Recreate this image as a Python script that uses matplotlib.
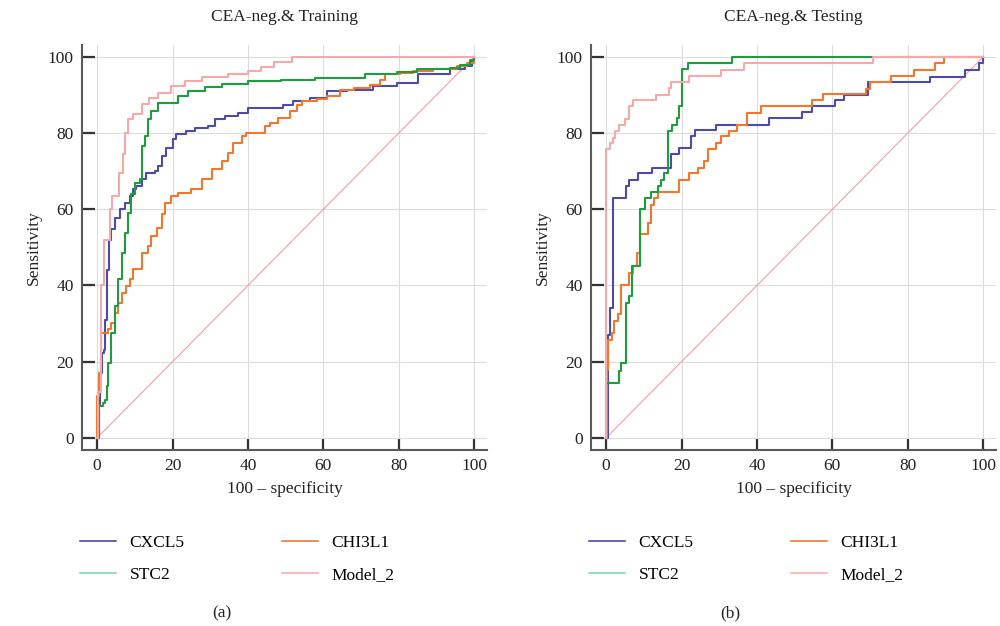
import matplotlib
matplotlib.use("Agg")
import matplotlib.pyplot as plt
from matplotlib.lines import Line2D
from matplotlib.ticker import MultipleLocator

plt.rcParams['font.family'] = ['Liberation Serif', 'DejaVu Serif']

names = ['CXCL5', 'CHI3L1', 'STC2', 'Model_2']
colors = ['#4b4ba8', '#f2772e', '#1d9e3e', '#f6a9a9']
legend_colors = ['#3a3a92', '#ee6a2a', '#7fd3a2', '#f7a8a8']
panel_titles = ['CEA-neg.& Training', 'CEA-neg.& Testing']
panel_tags = ['(a)', '(b)']
ticks = [0, 20, 40, 60, 80, 100]

# training set ROC (100 - specificity, sensitivity), steps
train_cxcl5_x = [0, 0.4, 0.7, 1.2, 1.9, 2.2, 2.5, 3.1, 3.8, 4.7, 6.0, 7.3, 8.7, 9.6, 10.4, 11.8, 13.1, 15.3,
                 16.2, 17.1, 18.4, 20.2, 21.0, 23.7, 25.9, 29.5, 31.2, 33.9, 37.4, 40.0, 49.4, 52.0, 56.5,
                 60.9, 66.2, 73.3, 79.5, 85.2, 93.6, 97.6, 99.4, 100]
train_cxcl5_y = [0, 8.8, 17, 22.3, 23, 31, 44, 52, 54.7, 57.8, 60, 61.7, 63.5, 65.2, 66, 68, 69.6, 70,
                 71.4, 74, 76.2, 78.4, 79.7, 80.6, 81.4, 81.9, 83.6, 84.5, 85.4, 86.7, 87.5, 88.4, 89.3,
                 91, 91.4, 92.3, 93.2, 95.4, 96.7, 97.6, 98.9, 100]
train_chi3l1_x = [0, 0.1, 0.4, 1.0, 2.9, 3.8, 4.7, 5.6, 6.5, 7.8, 8.7, 9.6, 11.8, 13.5, 14.4, 15.8, 17.1,
                  18.0, 19.7, 21.5, 25.0, 27.7, 30.4, 33.0, 34.8, 36.1, 38.3, 39.6, 44.5, 45.9, 48.0, 51.2,
                  53.0, 54.3, 58.3, 60.9, 64.5, 68.0, 72.4, 75.1, 76.4, 80.4, 83.9, 89.2, 95.4, 98.0, 100]
train_chi3l1_y = [0, 11, 17, 27.6, 28.5, 30.2, 32.8, 35.5, 38, 39.8, 41.6, 44.2, 48.6, 50.3, 53, 55.2, 58.7,
                  61.7, 63.5, 64.4, 65.2, 67.9, 70.5, 72.7, 74.9, 77.5, 79.2, 80.1, 81.9, 82.7, 84, 85.7,
                  87.5, 88.4, 89, 89.7, 91.4, 91.9, 92.7, 94, 95.4, 95.8, 96.3, 96.7, 97.6, 98.5, 100]
train_stc2_x = [0, 0.5, 1.6, 2.0, 2.5, 2.9, 3.8, 4.7, 5.6, 6.5, 7.3, 8.2, 9.1, 10.0, 11.3, 11.8, 12.7, 13.4,
                14.4, 16.2, 21.5, 24.2, 28.6, 33.0, 40.0, 48.9, 57.8, 71.1, 79.5, 84.8, 93.6, 96.3, 99.0, 100]
train_stc2_y = [0, 8.3, 9.2, 10, 13.6, 19.7, 27.6, 34.6, 41.6, 48.6, 53.8, 59, 63.9, 67, 67.9, 76.6, 79.2, 83.6,
                85.8, 88, 89.7, 91, 92, 93, 93.7, 94, 94.5, 95.4, 96, 96.7, 97.2, 98, 99.3, 100]
train_model2_x = [0, 0.2, 1.1, 1.8, 3.4, 3.9, 5.8, 6.9, 7.3, 8.2, 9.6, 11.8, 13.7, 16.2, 19.7, 23.3, 27.7,
                  34.8, 40.0, 43.6, 47.0, 51.7, 100]
train_model2_y = [0, 12, 40, 52, 60, 63.5, 69.6, 74.4, 80, 83.6, 85, 87.6, 89.3, 90.5, 92.4, 93.7, 94.6,
                  95.4, 96.3, 97.4, 98.6, 100, 100]

# testing set ROC
test_cxcl5_x = [0, 0.5, 1.1, 1.8, 5.3, 6.2, 8.4, 12.3, 17.2, 19.4, 22.5, 23.5, 29.1, 43.2, 52.0, 54.7, 60.8,
                63.0, 69.4, 86.0, 95.2, 98.8, 100]
test_cxcl5_y = [0, 27, 34, 63, 66, 67.8, 69.6, 70.9, 74.4, 76.1, 79.2, 80.9, 82.2, 84, 85.5, 87, 88.7,
                90, 93.5, 94.8, 96.6, 98.3, 100]
test_chi3l1_x = [0, 0.2, 0.6, 1.5, 2.2, 3.1, 4.0, 6.2, 7.1, 8.2, 9.0, 11.0, 11.9, 12.8, 13.8, 19.4, 22.0,
                 24.3, 26.0, 27.1, 29.1, 30.4, 32.6, 34.7, 37.3, 41.0, 54.7, 57.6, 68.8, 70.0, 75.6, 81.6,
                 87.3, 89.5, 100]
test_chi3l1_y = [0, 17.9, 25.8, 27.6, 30.6, 32.4, 40.2, 43.3, 45, 48.6, 53.4, 56.4, 61.2, 63, 64.5, 67.8, 69.6,
                 70.9, 72.6, 75.7, 77.4, 79.2, 80.5, 82, 85.3, 87, 88.7, 90.2, 91.7, 93.5, 95, 96.6,
                 98.3, 100, 100]
test_stc2_x = [0, 0, 3.5, 4.0, 5.3, 6.2, 6.9, 9.0, 10.3, 11.9, 13.8, 14.6, 15.3, 16.5, 17.6, 18.8, 19.4,
               20.1, 21.6, 33.5, 100]
test_stc2_y = [0, 14.4, 17.5, 19.7, 35.4, 37.2, 45, 60, 63, 64.5, 66, 67.8, 69.6, 80.5, 82.2, 84, 87,
               96.7, 98.3, 100, 100]
test_model2_x = [0, 0, 1.1, 1.8, 2.4, 3.5, 4.9, 6.2, 7.1, 13.2, 16.8, 17.2, 22.0, 30.4, 36.6, 70.8, 100]
test_model2_y = [0, 75.7, 77.4, 78.7, 80.5, 82.2, 83.6, 87, 88.6, 90.1, 91.9, 93.3, 94.9, 96.5, 98.3, 100, 100]

train_curves = [(train_cxcl5_x, train_cxcl5_y), (train_chi3l1_x, train_chi3l1_y),
                (train_stc2_x, train_stc2_y), (train_model2_x, train_model2_y)]
test_curves = [(test_cxcl5_x, test_cxcl5_y), (test_chi3l1_x, test_chi3l1_y),
               (test_stc2_x, test_stc2_y), (test_model2_x, test_model2_y)]

fs = 12.5
fig = plt.figure(figsize=(10, 6.26), dpi=100)
ax_left = fig.add_axes([0.082, 0.281, 0.405, 0.647])
ax_right = fig.add_axes([0.591, 0.281, 0.405, 0.647])


def draw_panel(ax, curves, title, tag):
    ax.plot([0, 100], [0, 100], color='#f2a0a0', lw=0.8, zorder=2)
    for (xs, ys), name, c in zip(curves, names, colors):
        ax.plot(xs, ys, drawstyle='steps-post', color=c, lw=1.5, label=name, zorder=3)

    ax.set_xlim(-4, 103.4)
    ax.set_ylim(-3.2, 103.1)
    ax.xaxis.set_major_locator(MultipleLocator(20))
    ax.yaxis.set_major_locator(MultipleLocator(20))
    ax.set_xticks(ticks)
    ax.set_yticks(ticks)
    ax.grid(True, color='#dcdcdc', lw=0.8)
    ax.set_axisbelow(True)
    for side in ['top', 'right']:
        ax.spines[side].set_visible(False)
    for side in ['left', 'bottom']:
        ax.spines[side].set_color('#5a5a5a')
        ax.spines[side].set_linewidth(1.5)
    ax.tick_params(direction='in', length=9, width=1.6, color='#333333',
                   labelsize=fs, labelcolor='#222222', pad=6)

    ax.set_title(title, fontsize=fs, color='#222222', pad=17)
    ax.set_xlabel('100 \u2013 specificity', fontsize=fs, color='#222222', labelpad=5)
    ax.set_ylabel('Sensitivity', fontsize=fs, color='#222222', labelpad=4)

    # legend uses thin proxy lines; column one CXCL5/STC2, column two CHI3L1/Model_2
    order = [0, 2, 1, 3]
    proxies = [Line2D([], [], color=legend_colors[i], lw=1.1) for i in order]
    box = ax.get_position()
    ax.legend(proxies, [names[i] for i in order], ncol=2, frameon=False,
              loc='upper left', bbox_to_anchor=(box.x0 - 0.002, 0.146), bbox_transform=fig.transFigure,
              borderpad=0, borderaxespad=0, handlelength=2.1, handletextpad=0.75,
              columnspacing=5.6, labelspacing=0.95, fontsize=fs)
    fig.text(box.x0 + box.width * 0.345, 0.013, tag, fontsize=fs, ha='center', color='#222222')


draw_panel(ax_left, train_curves, panel_titles[0], panel_tags[0])
draw_panel(ax_right, test_curves, panel_titles[1], panel_tags[1])

fig.savefig('out.png', dpi=100)
